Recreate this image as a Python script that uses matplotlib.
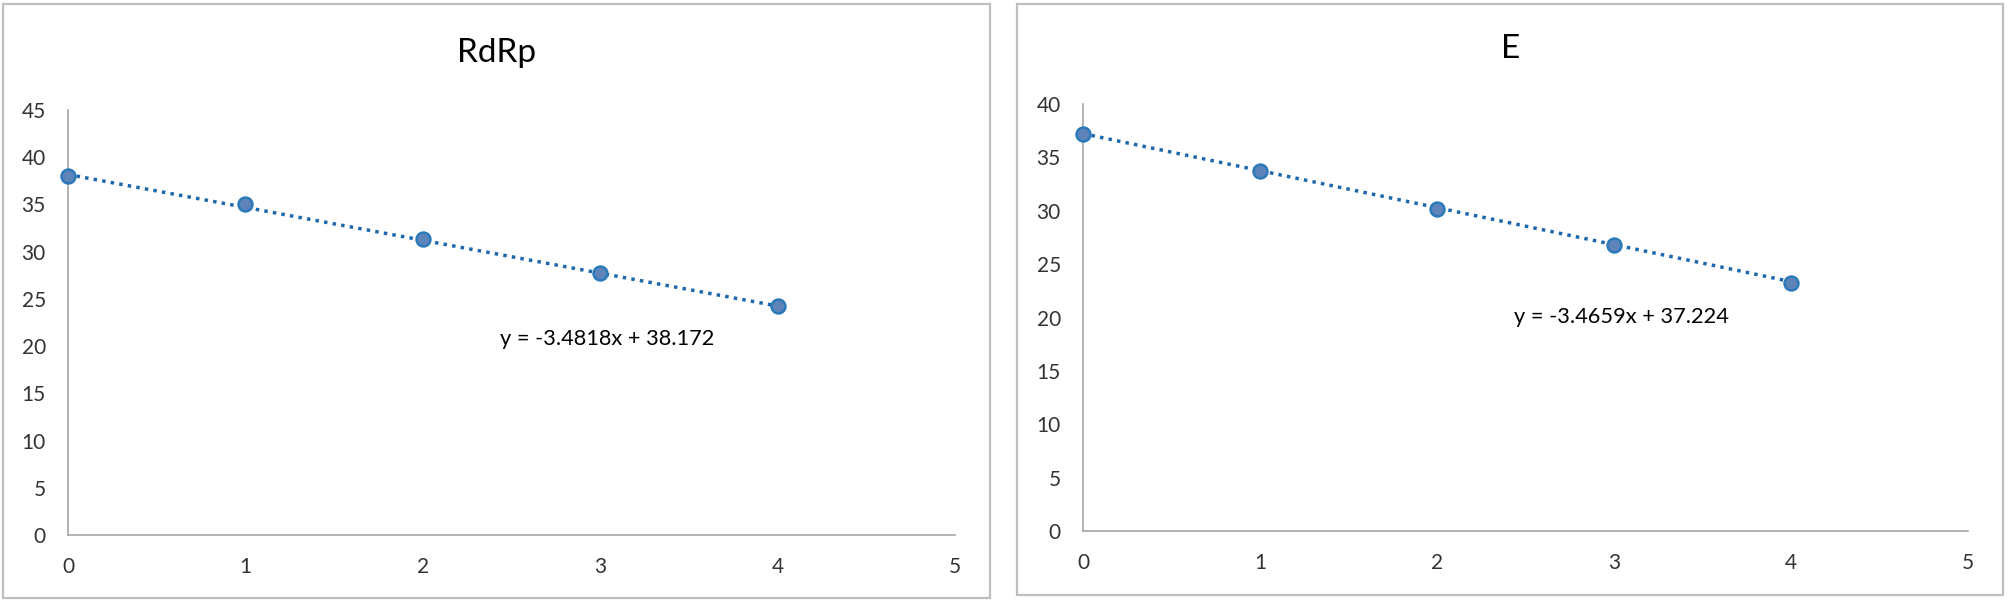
import numpy as np
import matplotlib
matplotlib.use("Agg")
import matplotlib.pyplot as plt
from matplotlib.patches import Rectangle

plt.rcParams['font.family'] = ['Lato', 'DejaVu Sans']

# values
dilution = [0, 1, 2, 3, 4]
rdrp_ct = [38.05, 35.1, 31.3, 27.7, 24.2]
e_ct = [37.15, 33.75, 30.2, 26.75, 23.25]
titles = ["RdRp", "E"]
slopes = [-3.4818, -3.4659]
intercepts = [38.172, 37.224]
y_max = [45, 40]

marker_fill = '#5f84b9'
marker_edge = '#2a7ab9'
line_col = '#1d68ad'
axis_col = '#a6a6a6'
text_col = '#333333'

fig = plt.figure(figsize=(20.07, 6.03), dpi=100)

# outer chart-area frames (pixels -> figure fraction)
W, H = 2007, 603
for x0, y0, x1, y1 in [(3, 4, 990, 598), (1017, 4, 2003, 595)]:
    fig.patches.append(Rectangle((x0 / W, 1 - y1 / H), (x1 - x0) / W, (y1 - y0) / H,
                                 transform=fig.transFigure, fill=False,
                                 edgecolor='#bfbfbf', linewidth=1.6))

ax_pos = [[68 / W, 1 - 535 / H, 887 / W, 425 / H],
          [1083 / W, 1 - 531 / H, 885 / W, 427 / H]]
title_pos = [(497 / W, 1 - 53 / H), (1511 / W, 1 - 49 / H)]
eq_pos = [(2.435, 20.75), (2.435, 20.05)]

for i, ct in enumerate([rdrp_ct, e_ct]):
    ax = fig.add_axes(ax_pos[i])
    xs = np.array(dilution)
    ax.plot(xs, slopes[i] * xs + intercepts[i], linestyle=(0, (1, 1.5)),
            color=line_col, linewidth=2.5, zorder=2)
    ax.plot(dilution, ct, 'o', markersize=10, markerfacecolor=marker_fill,
            markeredgecolor=marker_edge, markeredgewidth=1.8, zorder=3, clip_on=False)

    ax.set_xlim(0, 5)
    ax.set_ylim(0, y_max[i])
    ax.set_xticks(range(6))
    ax.set_yticks(range(0, y_max[i] + 1, 5))
    ax.tick_params(length=0, labelsize=15, labelcolor=text_col, pad=16)
    for side in ['top', 'right']:
        ax.spines[side].set_visible(False)
    for side in ['left', 'bottom']:
        ax.spines[side].set_color(axis_col)
        ax.spines[side].set_linewidth(1.2)

    sign = '-' if slopes[i] < 0 else ''
    ax.text(eq_pos[i][0], eq_pos[i][1],
            'y = {}{}x + {}'.format(sign, abs(slopes[i]), intercepts[i]),
            fontsize=15.7, color='black', ha='left', va='center')

    fig.text(title_pos[i][0], title_pos[i][1], titles[i], fontsize=24,
             ha='center', va='center', color='black')

fig.savefig('out.png', dpi=100)
